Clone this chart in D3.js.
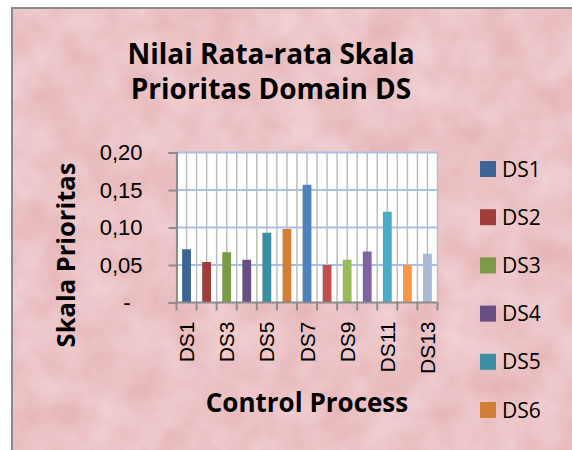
<!DOCTYPE html>
<html>
<head>
<meta charset="utf-8">
<script src="https://cdn.jsdelivr.net/npm/d3@7"></script>
<style>
    body { margin: 0; background: #fff; }
    svg { display: block; font-family: "Open Sans", "Noto Sans", sans-serif; }
</style>
</head>
<body>
<div id="chart"></div>
<script>
// Data
const categories = ["DS1", "DS2", "DS3", "DS4", "DS5", "DS6", "DS7", "DS8", "DS9", "DS10", "DS11", "DS12", "DS13"];
const values = [0.071, 0.054, 0.067, 0.057, 0.093, 0.098, 0.157, 0.050, 0.057, 0.068, 0.121, 0.050, 0.065];
const colors = ["#3c6596", "#a03d3b", "#7d9a47", "#674f86", "#3a8da3", "#d07e38", "#4f81bd",
                "#c0504d", "#9bbb59", "#8064a2", "#4bacc6", "#f79646", "#a9b9d8"];
const yTicks = [0, 0.05, 0.10, 0.15, 0.20];

const width = 572;
const height = 450;
const plot = { left: 176.5, right: 437.5, top: 152.5, bottom: 302.5 };

const svg = d3.select("#chart")
    .append("svg")
    .attr("width", width)
    .attr("height", height);

// mottled pink paper background
const defs = svg.append("defs");
const filt = defs.append("filter")
    .attr("id", "paper")
    .attr("x", 0).attr("y", 0).attr("width", "100%").attr("height", "100%")
    .attr("color-interpolation-filters", "sRGB");
filt.append("feTurbulence")
    .attr("type", "fractalNoise")
    .attr("baseFrequency", "0.025")
    .attr("numOctaves", 4)
    .attr("seed", 7);
filt.append("feColorMatrix")
    .attr("type", "matrix")
    .attr("values", "0.06 0 0 0 0.893  0.16 0 0 0 0.685  0.16 0 0 0 0.695  0 0 0 0 1");

svg.append("rect")
    .attr("x", 12).attr("y", 8)
    .attr("width", width).attr("height", height)
    .attr("filter", "url(#paper)");
svg.append("rect")
    .attr("x", 12).attr("y", 8)
    .attr("width", width + 10).attr("height", height + 10)
    .attr("fill", "none")
    .attr("stroke", "#8a8a8a")
    .attr("stroke-width", 2);

// Scales
const x = d3.scaleBand()
    .domain(categories)
    .range([plot.left, plot.right])
    .paddingInner(0.56)
    .paddingOuter(0.28);
const step = x.step();

const y = d3.scaleLinear()
    .domain([0, 0.2])
    .range([plot.bottom, plot.top]);

// plot area
svg.append("rect")
    .attr("x", plot.left).attr("y", plot.top)
    .attr("width", plot.right - plot.left)
    .attr("height", plot.bottom - plot.top)
    .attr("fill", "#fff");

// vertical gridlines at band edges and centres
const vLines = d3.range(0, categories.length * 2 + 1).map(i => plot.left + i * step / 2);
svg.append("g")
    .selectAll("line")
    .data(vLines)
    .join("line")
    .attr("x1", d => d).attr("x2", d => d)
    .attr("y1", plot.top).attr("y2", plot.bottom)
    .attr("stroke", "#bdbdbd")
    .attr("stroke-width", 1.5);

// horizontal gridlines
svg.append("g")
    .selectAll("line")
    .data(yTicks.filter(d => d > 0))
    .join("line")
    .attr("x1", plot.left).attr("x2", plot.right)
    .attr("y1", d => y(d)).attr("y2", d => y(d))
    .attr("stroke", "#a9c0e6")
    .attr("stroke-width", 2);

// Bars
svg.append("g")
    .selectAll("rect")
    .data(values)
    .join("rect")
    .attr("x", (d, i) => x(categories[i]))
    .attr("y", d => y(d))
    .attr("width", x.bandwidth())
    .attr("height", d => y(0) - y(d))
    .attr("fill", (d, i) => colors[i]);

// Y axis
const yAxis = svg.append("g")
    .attr("transform", `translate(${plot.left},0)`)
    .call(d3.axisLeft(y)
        .tickValues(yTicks)
        .tickSize(8)
        .tickPadding(26)
        .tickFormat(d => d === 0 ? "-" : d3.format(".2f")(d).replace(".", ",")));
yAxis.select(".domain").attr("stroke", "#8c8c8c").attr("stroke-width", 2);
yAxis.selectAll(".tick line").attr("stroke", "#8c8c8c").attr("stroke-width", 2);
yAxis.selectAll(".tick text")
    .attr("font-size", 22)
    .attr("fill", "#000")
    .attr("dx", d => d === 0 ? -12 : 0);

// X axis (labels on every other category)
const xAxis = svg.append("g")
    .attr("transform", `translate(0,${plot.bottom})`)
    .call(d3.axisBottom(x)
        .tickSize(0)
        .tickFormat((d, i) => i % 2 === 0 ? d : ""));
xAxis.select(".domain").remove();
xAxis.selectAll(".tick text")
    .attr("font-size", 21)
    .attr("fill", "#000")
    .attr("text-anchor", "end")
    .attr("transform", "rotate(-90)")
    .attr("x", -19)
    .attr("y", 0)
    .attr("dy", "0.36em");

svg.append("line")
    .attr("x1", plot.left - 1).attr("x2", plot.right)
    .attr("y1", plot.bottom).attr("y2", plot.bottom)
    .attr("stroke", "#8c8c8c")
    .attr("stroke-width", 2);
svg.append("g")
    .selectAll("line")
    .data(d3.range(0, categories.length + 1).map(i => plot.left + i * step))
    .join("line")
    .attr("x1", d => d).attr("x2", d => d)
    .attr("y1", plot.bottom).attr("y2", plot.bottom + 8)
    .attr("stroke", "#8c8c8c")
    .attr("stroke-width", 2);

// Titles
const title = svg.append("text")
    .attr("x", 271)
    .attr("text-anchor", "middle")
    .attr("font-size", 28)
    .attr("font-weight", "bold");
title.append("tspan").attr("x", 271).attr("y", 64).text("Nilai Rata-rata Skala");
title.append("tspan").attr("x", 271).attr("y", 99).text("Prioritas Domain DS");

svg.append("text")
    .attr("x", 307)
    .attr("y", 412)
    .attr("text-anchor", "middle")
    .attr("font-size", 26)
    .attr("font-weight", "bold")
    .text("Control Process");

svg.append("text")
    .attr("transform", "translate(75,255) rotate(-90)")
    .attr("text-anchor", "middle")
    .attr("font-size", 25.5)
    .attr("font-weight", "bold")
    .text("Skala Prioritas");

// Legend (the chart frame cuts it off after DS6)
const legendRow = 48.2;
const legendItems = categories.filter((d, i) => 169 + i * legendRow + 12 < height);
const legend = svg.append("g")
    .selectAll("g")
    .data(legendItems)
    .join("g")
    .attr("transform", (d, i) => `translate(480,${169 + i * legendRow})`);
legend.append("rect")
    .attr("x", 0).attr("y", -8)
    .attr("width", 16).attr("height", 16)
    .attr("fill", (d, i) => colors[i]);
legend.append("text")
    .attr("x", 22)
    .attr("dy", "0.36em")
    .attr("font-size", 21)
    .text(d => d);
</script>
</body>
</html>
